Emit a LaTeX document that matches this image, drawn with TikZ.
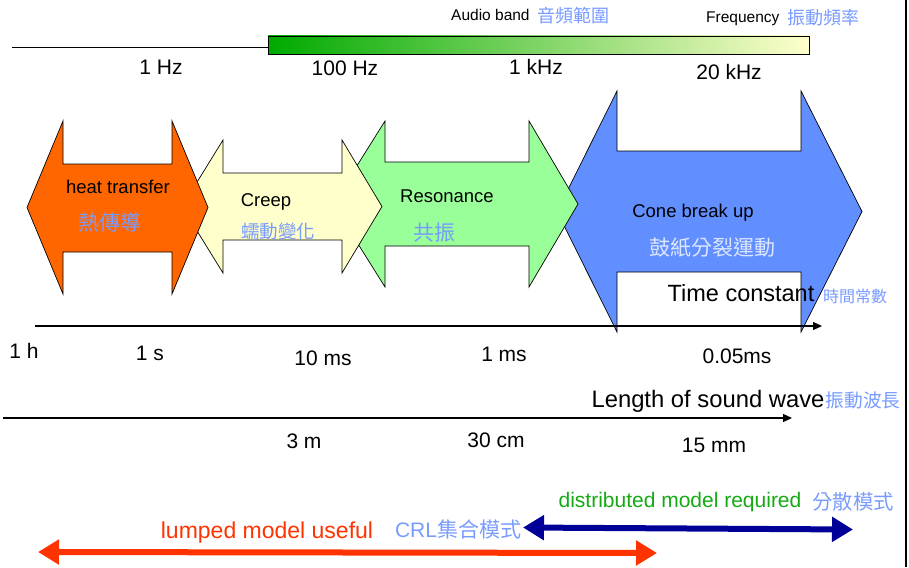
\documentclass[tikz,border=0pt]{standalone}
\usepackage{fontspec}
\setmainfont{Liberation Sans}
\newfontfamily\cjk{Noto Sans CJK TC}
\usetikzlibrary{arrows.meta}
\definecolor{orangeF}{RGB}{255,102,0}
\definecolor{yellowF}{RGB}{255,255,204}
\definecolor{greenF}{RGB}{153,255,153}
\definecolor{blueF}{RGB}{97,143,255}
\definecolor{cjkblue}{RGB}{120,155,255}
\definecolor{palecjk}{RGB}{220,230,255}
\definecolor{gtext}{RGB}{20,170,20}
\definecolor{rtext}{RGB}{255,51,0}
\definecolor{darkblueA}{RGB}{0,0,153}
\definecolor{barL}{RGB}{0,170,0}
\definecolor{barM}{RGB}{195,228,150}
\definecolor{barR}{RGB}{255,255,204}
\newcommand{\fsz}[1]{\fontsize{#1}{#1}\selectfont}
\begin{document}
\begin{tikzpicture}[x=1pt,y=-1pt,
  blk/.style={draw=black, line width=0.7pt, line join=miter},
  lbl/.style={inner sep=0pt, anchor=base, font=\fsz{21}},
  sml/.style={inner sep=0pt, anchor=base west, font=\fsz{15.5}},
  inlbl/.style={inner sep=0pt, anchor=base, font=\fsz{18.5}},
  cjkt/.style={inner sep=0pt, anchor=center, text=cjkblue},
  axisln/.style={line width=1.3pt, -{Triangle[length=9pt,width=8pt]}},
  fatarrow/.style={line width=6pt, {Triangle[length=21pt,width=24pt]}-{Triangle[length=21pt,width=24pt]}}]
\useasboundingbox (0,0) rectangle (909,567);

% frequency scale
\coordinate (f0) at (12,47);
\coordinate (f1) at (268,47);
\draw[line width=0.9pt] (f0) -- (f1);
\draw[line width=0.7pt, left color=barL, middle color=barM, right color=barR] (268,36) rectangle (809,54);
\node[sml] (aud) at (451,21) {Audio band};
\node[cjkt, font=\cjk\fsz{18}] (audc) at (573.5,15.5) {音頻範圍};
\node[sml] (freq) at (706,23) {Frequency};
\node[cjkt, font=\cjk\fsz{18}] (freqc) at (823,18) {振動頻率};
\node[lbl] (hz1) at (161,75) {1 Hz};
\node[lbl] (hz100) at (345,76) {100 Hz};
\node[lbl] (khz1) at (536,75) {1 kHz};
\node[lbl] (khz20) at (729,80) {20 kHz};

% block arrows (back to front)
\path[blk, fill=blueF] (557,211.5) -- (617,91) -- (617,151) -- (801,151) -- (801,91) -- (862,211.5) -- (801,332) -- (801,272) -- (617,272) -- (617,332) -- cycle;
\path[blk, fill=greenF] (333,204) -- (385,121) -- (385,162) -- (529,162) -- (529,121) -- (578,204) -- (529,287) -- (529,246) -- (385,246) -- (385,287) -- cycle;
\path[blk, fill=yellowF] (182,206.5) -- (223,140) -- (223,173) -- (342,173) -- (342,140) -- (382,206.5) -- (342,273) -- (342,240) -- (223,240) -- (223,273) -- cycle;
\path[blk, fill=orangeF] (27,207.5) -- (63,121) -- (63,164) -- (172,164) -- (172,121) -- (208,207.5) -- (172,294) -- (172,252) -- (63,252) -- (63,294) -- cycle;

\node[inlbl] (heat) at (118,193) {heat transfer};
\node[cjkt, font=\cjk\fsz{21}] (heatc) at (110,223) {熱傳導};
\node[inlbl] (creep) at (266,206) {Creep};
\node[cjkt, font=\cjk\fsz{18.5}] (creepc) at (278,231) {蠕動變化};
\node[inlbl] (reso) at (447,202) {Resonance};
\node[cjkt, font=\cjk\fsz{21}] (resoc) at (434,233) {共振};
\node[inlbl] (cone) at (693,217) {Cone break up};
\node[cjkt, font=\cjk\fsz{21}, text=palecjk] (conec) at (712,248) {鼓紙分裂運動};

% time constant axis
\node[inner sep=0pt, anchor=base, font=\fsz{23.5}] (tc) at (741,301) {Time constant};
\node[cjkt, font=\cjk\fsz{16}] (tcc) at (855,296) {時間常數};
\coordinate (t0) at (35,326);
\coordinate (t1) at (822,326);
\draw[axisln] (t0) -- (t1);
\node[lbl] (h1) at (24,358) {1 h};
\node[lbl] (s1) at (150,360) {1 s};
\node[lbl] (ms10) at (323,365) {10 ms};
\node[lbl] (ms1) at (504,361) {1 ms};
\node[lbl] (ms005) at (737,363) {0.05ms};

% wavelength axis
\node[inner sep=0pt, anchor=base, font=\fsz{23.8}] (lw) at (708,407) {Length of sound wave};
\node[cjkt, font=\cjk\fsz{18.7}] (lwc) at (863,400) {振動波長};
\coordinate (w0) at (3,418);
\coordinate (w1) at (792,418);
\draw[axisln] (w0) -- (w1);
\node[lbl] (m3) at (304,448) {3 m};
\node[lbl] (cm30) at (496,447) {30 cm};
\node[lbl] (mm15) at (714,452) {15 mm};

% model ranges
\node[lbl, text=gtext] (dist) at (680,507) {distributed model required};
\node[cjkt, font=\cjk\fsz{20.4}] (distc) at (853,502) {分散模式};
\node[lbl, text=rtext, font=\fsz{23}] (lump) at (267,538) {lumped model useful};
\node[lbl, text=cjkblue] (lumpc) at (458,537) {CRL{\cjk 集合模式}};
\coordinate (b0) at (523,527.5);
\coordinate (b1) at (853,529.5);
\draw[fatarrow, darkblueA] (b0) -- (b1);
\coordinate (r0) at (38,552);
\coordinate (r1) at (657,553);
\draw[fatarrow, rtext] (r0) -- (r1);

% right frame line
\coordinate (v0) at (906,0);
\coordinate (v1) at (906,567);
\draw[line width=2pt] (v0) -- (v1);
\end{tikzpicture}
\end{document}
